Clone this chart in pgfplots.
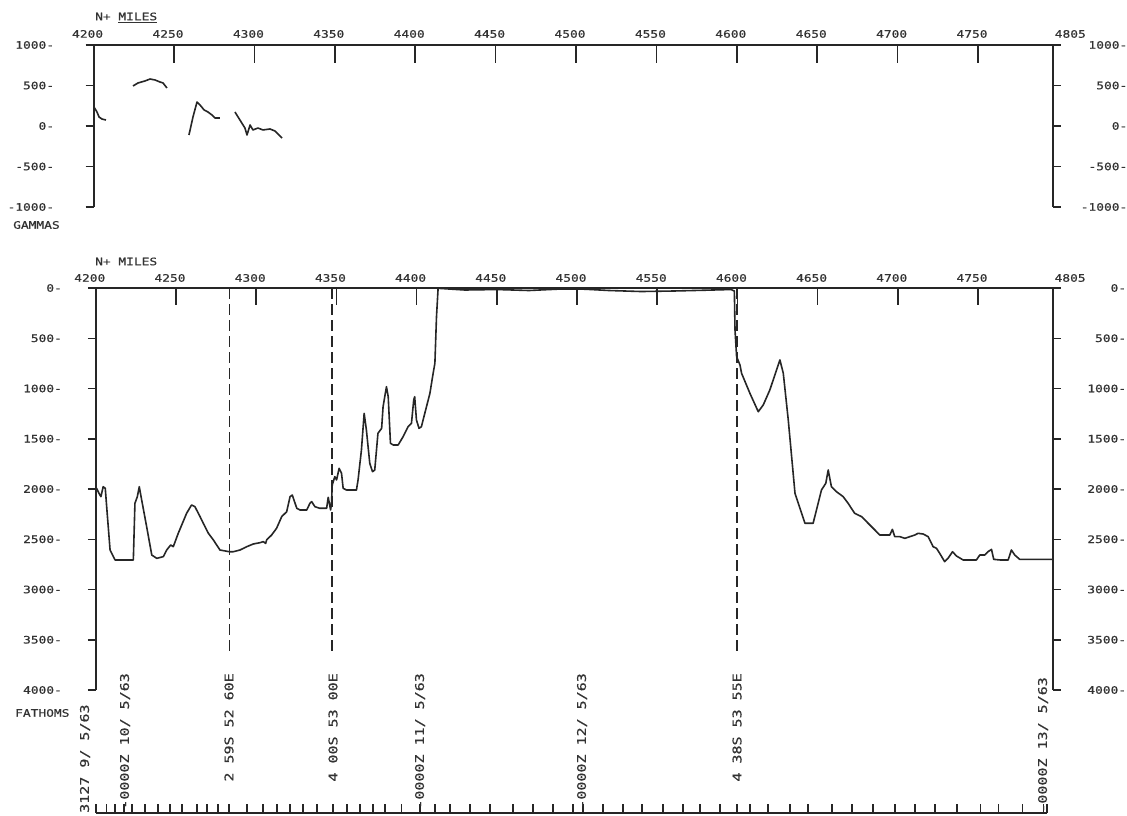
\documentclass[border=0pt]{standalone}
\usepackage{pgfplots}
\pgfplotsset{compat=1.18}
\usepackage{fontspec}
\newfontfamily\plotfont[FakeStretch=1.25, FakeBold=0.6]{DejaVu Sans Mono}
\newcommand\tickfont{\plotfont\fontsize{10.3}{12}\selectfont}
\newcommand\labfont{\plotfont\fontsize{12}{14}\selectfont}
\definecolor{ink}{HTML}{262626}
\definecolor{inktext}{HTML}{333333}

\pgfplotsset{
  base/.style={scale only axis, anchor=south west,
    axis line style={ink, line width=2pt},
    tick style={ink, line width=1.5pt},
    ticklabel style={font=\tickfont, text=inktext},
    minor tick num=0},
  curve/.style={ink, line width=1.6pt, line join=round, mark=none},
  cut/.style={ink, line width=1.5pt, dash pattern=on 11pt off 5pt},
  milesticks/.style={
    xtick={4200,4250,4300,4350,4400,4450,4500,4550,4600,4650,4700,4750,4796.5},
    xticklabels={4200,4250,4300,4350,4400,4450,4500,4550,4600,4650,4700,4750,{\hspace*{16pt}\rlap{4805}}}},
}

\begin{document}
\begin{tikzpicture}[x=1pt,y=1pt]
\path[use as bounding box, fill=white] (0,0) rectangle (1127,816);

% ---------------- magnetics (gammas)
\begin{axis}[base, at={(93.6pt,609pt)}, width=959.2pt, height=162pt,
  xmin=4200, xmax=4796.5, ymin=-1000, ymax=1000,
  axis x line*=top, axis y line=none, milesticks,
  xtick align=inside, major tick length=18pt,
  xticklabel style={xshift=-6pt, yshift=3.6pt}, ytick=\empty]
\addplot[curve] coordinates {(4200.2,235) (4202.1,173) (4203.4,111) (4205.2,86) (4207.7,74)};
\addplot[curve] coordinates {(4224.5,494) (4227.6,531) (4232.0,556) (4235.1,580) (4238.2,568)
  (4241.3,543) (4243.2,531) (4245.6,469)};
\addplot[curve] coordinates {(4259.3,-111) (4261.8,111) (4264.3,296) (4266.2,259) (4268.7,198)
  (4271.1,173) (4273.6,136) (4275.5,99) (4278.6,99)};
\addplot[curve] coordinates {(4287.9,173) (4291.0,74) (4294.1,-25) (4295.4,-111) (4297.3,12)
  (4299.1,-49) (4302.2,-25) (4305.3,-49) (4309.7,-37) (4312.8,-62) (4317.2,-148)};
\end{axis}
\begin{axis}[base, at={(93.6pt,609pt)}, width=959.2pt, height=162pt,
  xmin=4200, xmax=4796.5, ymin=-1000, ymax=1000,
  axis x line=none, axis y line*=left, xtick=\empty,
  ytick={-1000,-500,0,500,1000}, yticklabels={-1000-,-500-,0-,500-,1000-},
  ytick align=outside, major tick length=8pt,
  yticklabel style={anchor=east, xshift=-28pt}]
\end{axis}
\begin{axis}[base, at={(93.6pt,609pt)}, width=959.2pt, height=162pt,
  xmin=4200, xmax=4796.5, ymin=-1000, ymax=1000,
  axis x line=none, axis y line*=right, xtick=\empty,
  ytick={-1000,-500,0,500,1000}, yticklabels={-1000-,-500-,0-,500-,1000-},
  ytick align=outside, major tick length=8pt,
  yticklabel style={anchor=east, xshift=70pt}]
\end{axis}

% ---------------- bathymetry (fathoms)
\begin{axis}[base, at={(95.8pt,126pt)}, width=956.8pt, height=402pt,
  xmin=4200, xmax=4796.5, ymin=0, ymax=4000, y dir=reverse,
  axis x line*=top, axis y line=none, milesticks,
  xtick align=inside, major tick length=17pt,
  xticklabel style={xshift=-6pt, yshift=2.6pt}, ytick=\empty]
\addplot[curve] table {
x y
4200.5 1993
4202.0 2043
4203.2 2076
4204.6 1977
4205.9 1993
4207.1 2242
4208.9 2607
4212.0 2706
4223.4 2706
4224.4 2142
4225.9 2076
4227.1 1977
4228.6 2109
4231.7 2375
4234.9 2657
4238.0 2690
4242.1 2673
4244.2 2607
4246.7 2557
4248.3 2574
4251.4 2441
4256.6 2242
4259.7 2159
4261.8 2176
4265.0 2275
4267.0 2341
4270.2 2441
4273.3 2507
4277.4 2607
4283.2 2624
4285.7 2624
4289.9 2607
4294.1 2574
4298.2 2547
4302.4 2534
4304.4 2524
4305.9 2541
4306.5 2507
4309.6 2458
4312.7 2391
4315.9 2275
4319.0 2226
4321.1 2076
4322.5 2060
4325.3 2192
4327.3 2209
4331.5 2209
4333.5 2142
4334.6 2126
4336.6 2176
4339.7 2192
4343.9 2192
4344.9 2083
4346.4 2209
4347.0 2126
4347.4 1960
4349.0 1877
4350.1 1910
4351.7 1794
4353.2 1844
4354.2 1993
4356.3 2010
4362.5 2010
4363.5 1910
4365.6 1612
4367.3 1247
4368.7 1413
4370.8 1744
4372.5 1828
4373.9 1811
4375.9 1446
4378.2 1396
4379.1 1181
4381.2 982
4382.3 1082
4383.7 1545
4385.4 1562
4388.5 1562
4391.6 1479
4394.7 1380
4396.8 1346
4398.2 1114
4398.8 1082
4399.9 1313
4401.5 1396
4403.0 1380
4405.1 1247
4408.3 1048
4410.3 849
4411.4 749
4412.4 286
4413.4 3
4430.0 20
4450.0 15
4470.0 25
4490.0 10
4505.0 12
4520.0 25
4540.0 35
4560.0 30
4580.0 22
4596.0 15
4598.1 30
4598.5 418
4599.5 683
4601.6 766
4602.6 849
4607.8 1048
4613.0 1231
4616.1 1164
4620.2 1015
4626.5 716
4628.6 849
4631.7 1313
4635.9 2043
4642.1 2341
4647.2 2341
4652.4 2010
4655.1 1943
4656.6 1811
4658.6 1977
4661.7 2026
4665.9 2076
4669.0 2142
4673.1 2242
4677.4 2275
4681.5 2341
4685.7 2408
4688.8 2458
4695.0 2458
4696.6 2401
4698.1 2474
4701.2 2474
4704.4 2491
4707.5 2474
4710.6 2458
4712.6 2441
4715.8 2448
4718.9 2474
4722.0 2574
4724.1 2590
4726.1 2640
4729.2 2723
4731.3 2690
4734.1 2624
4736.6 2667
4740.7 2706
4749.0 2706
4751.1 2657
4754.2 2657
4756.2 2624
4758.4 2601
4759.8 2700
4763.6 2706
4768.8 2706
4770.8 2607
4772.9 2657
4776.0 2700
4796.5 2700
};
\addplot[cut] coordinates {(4283.2,0) (4283.2,3612)};
\addplot[cut] coordinates {(4347.4,0) (4347.4,3612)};
\addplot[cut] coordinates {(4599.6,0) (4599.6,3650)};
\end{axis}
\begin{axis}[base, at={(95.8pt,126pt)}, width=956.8pt, height=402pt,
  xmin=4200, xmax=4796.5, ymin=0, ymax=4000, y dir=reverse,
  axis x line=none, axis y line*=left, xtick=\empty,
  ytick={0,500,...,4000}, yticklabels={0-,500-,1000-,1500-,2000-,2500-,3000-,3500-,4000-},
  ytick align=outside, major tick length=8pt,
  yticklabel style={anchor=east, xshift=-22.4pt}]
\end{axis}
\begin{axis}[base, at={(95.8pt,126pt)}, width=956.8pt, height=402pt,
  xmin=4200, xmax=4796.5, ymin=0, ymax=4000, y dir=reverse,
  axis x line=none, axis y line*=right, xtick=\empty,
  ytick={0,500,...,4000}, yticklabels={0-,500-,1000-,1500-,2000-,2500-,3000-,3500-,4000-},
  ytick align=outside, major tick length=8pt,
  yticklabel style={anchor=east, xshift=69pt}]
\end{axis}

% ---------------- time marks along the track
\begin{axis}[base, at={(95.8pt,3pt)}, width=951.2pt, height=10pt,
  xmin=4200, xmax=4793, ymin=0, ymax=1,
  axis x line*=bottom, axis y line=none,
  xtick={4200,4206.8,4212,4217.6,4222.6,4230.7,4238.8,4246.3,4253.7,4263.1,4269.3,4276.2,
    4283,4294.3,4304.2,4313,4321.1,4329.2,4337.9,4347.9,4356.6,4364.7,4372.8,4380.3,4390.7,
    4402.1,4411.5,4420.8,4433.3,4445.8,4460.1,4472.6,4485.1,4497.6,4503.8,4516.3,4528.7,
    4540.6,4553.7,4566.2,4576.7,4589.2,4599.8,4607.9,4619.1,4632.8,4644.1,4659,4671.5,
    4684.6,4698.3,4710.8,4723.3,4737,4751.4,4762.6,4777.6,4790.7,4793},
  xticklabels={}, xtick align=inside, major tick length=9pt, ytick=\empty]
\end{axis}

% ---------------- texts
\begin{scope}[every node/.style={inner sep=0pt, text=inktext}]
\node[anchor=west, font=\tickfont] at (95,798.5) {N+ \underline{MILES}};
\node[anchor=west, font=\tickfont] at (95,554.5) {N+ MILES};
\node[anchor=west, font=\tickfont] at (13,591) {GAMMAS};
\node[anchor=west, font=\tickfont] at (15,103) {FATHOMS};
\node[rotate=90, anchor=west, font=\labfont] at (85,3) {3127 9/ 5/63};
\node[rotate=90, anchor=east, font=\labfont] at (125,143) {-0000Z 10/ 5/63};
\node[rotate=90, anchor=east, font=\labfont] at (229,143) {2 59S 52 60E};
\node[rotate=90, anchor=east, font=\labfont] at (333,143) {4 00S 53 00E};
\node[rotate=90, anchor=east, font=\labfont] at (420,143) {-0000Z 11/ 5/63};
\node[rotate=90, anchor=east, font=\labfont] at (582,143) {-0000Z 12/ 5/63};
\node[rotate=90, anchor=east, font=\labfont] at (737,143) {4 38S 53 55E};
\node[rotate=90, anchor=east, font=\labfont] at (1043,139) {-0000Z 13/ 5/63};
\end{scope}
\end{tikzpicture}
\end{document}
